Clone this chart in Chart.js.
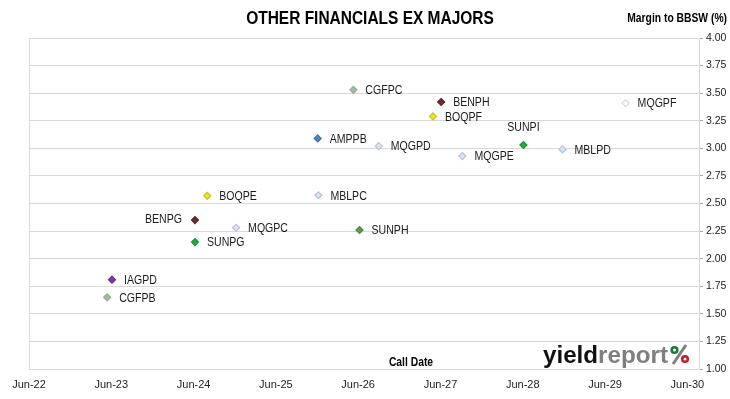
<!DOCTYPE html>
<html lang="en">
  <head>
    <meta charset="UTF-8" />
    <script src="https://cdn.jsdelivr.net/npm/chart.js@4.4.1/dist/chart.umd.min.js"></script>
    <title>Other Financials ex Majors</title>
    <style>
      body {
        margin: 0;
        padding: 0;
        background: #fff;
      }
      canvas {
        display: block;
      }
    </style>
  </head>
  <body>
    <canvas id="chart" width="730" height="399"></canvas>
    <script>
      // hybrids: ticker, first call date, margin to BBSW (%)
      const issuers = ['CGFPB', 'IAGPD', 'SUNPG', 'BENPG', 'MQGPC', 'BOQPE', 'MBLPC', 'AMPPB', 'CGFPC', 'SUNPH', 'MQGPD', 'BOQPF', 'BENPH', 'MQGPE', 'SUNPI', 'MBLPD', 'MQGPF']
      const callDates = ['2023-05-13', '2023-06-04', '2024-06-07', '2024-06-07', '2024-12-07', '2024-08-01', '2025-12-07', '2025-12-04', '2026-05-10', '2026-06-07', '2026-09-01', '2027-04-28', '2027-06-04', '2027-09-07', '2028-06-04', '2028-11-25', '2029-09-01']
      const margins = [1.65, 1.81, 2.15, 2.35, 2.28, 2.57, 2.575, 3.09, 3.53, 2.26, 3.02, 3.29, 3.42, 2.93, 3.03, 2.99, 3.41]
      const xTickLabels = ['Jun-22', 'Jun-23', 'Jun-24', 'Jun-25', 'Jun-26', 'Jun-27', 'Jun-28', 'Jun-29', 'Jun-30']

      const FONT = '"Liberation Sans", Arial, sans-serif'

      // months since 1 Jun 2022
      const toMonths = (s) => {
        const [y, m, d] = s.split('-').map(Number)
        return (y - 2022) * 12 + (m - 6) + (d - 1) / 30
      }
      const tickMonths = xTickLabels.map((_, i) => i * 12)

      const fills = {
        CGFP: '#a3bda6', IAGP: '#7b3aa6', SUNP: '#1fae3c', BENP: '#6b2b2b',
        MQGP: '#dce4f3', MBLP: '#dce4f3', BOQP: '#ece52c', AMPP: '#4f84c8',
      }
      const borders = {
        CGFP: '#93ad98', IAGP: '#6a2c95', SUNP: '#16952f', BENP: '#5a2020',
        MQGP: '#b1c3e3', MBLP: '#b1c3e3', BOQP: '#c9c21e', AMPP: '#3f70b0',
      }
      const fillFor = (n) => (n === 'SUNPH' ? '#5f9a50' : n === 'MQGPF' ? '#ffffff' : fills[n.slice(0, 4)])
      const borderFor = (n) => (n === 'SUNPH' ? '#4f8843' : n === 'MQGPF' ? '#d2d9ea' : borders[n.slice(0, 4)])

      // draw text squeezed horizontally (the original uses a narrow face)
      const narrowText = (ctx, text, x, y, sx, align) => {
        const w = ctx.measureText(text).width * sx
        const left = align === 'center' ? x - w / 2 : align === 'right' ? x - w : x
        ctx.save()
        ctx.textAlign = 'left'
        ctx.translate(left, y)
        ctx.scale(sx, 1)
        ctx.fillText(text, 0, 0)
        ctx.restore()
      }

      const labelPlugin = {
        id: 'decor',
        afterDraw(chart) {
          const { ctx, chartArea: a } = chart
          ctx.save()
          // plot box
          ctx.strokeStyle = '#d9d9d9'
          ctx.lineWidth = 1
          ctx.strokeRect(a.left + 0.5, a.top + 0.5, a.right - a.left, a.bottom - a.top)

          // titles
          ctx.fillStyle = '#000'
          ctx.textBaseline = 'middle'
          ctx.font = 'bold 18px ' + FONT
          narrowText(ctx, 'OTHER FINANCIALS EX MAJORS', 370, 19, 0.86, 'center')
          ctx.font = 'bold 12px ' + FONT
          narrowText(ctx, 'Margin to BBSW (%)', 727, 19, 0.86, 'right')
          narrowText(ctx, 'Call Date', 411, 363, 0.86, 'center')

          // point labels
          const meta = chart.getDatasetMeta(0)
          ctx.font = '12px ' + FONT
          ctx.fillStyle = '#1a1a1a'
          meta.data.forEach((pt, i) => {
            const name = issuers[i]
            if (name === 'BENPG') {
              narrowText(ctx, name, pt.x - 13, pt.y, 0.88, 'right')
            } else if (name === 'SUNPI') {
              narrowText(ctx, name, pt.x, pt.y - 17, 0.88, 'center')
            } else {
              narrowText(ctx, name, pt.x + 12, pt.y + 1, 0.88, 'left')
            }
          })

          // logo
          ctx.textBaseline = 'alphabetic'
          ctx.font = 'bold 23px ' + FONT
          const w1 = ctx.measureText('yield').width
          const w2 = ctx.measureText('report').width
          const sx = 125 / (w1 + w2)
          ctx.save()
          ctx.translate(543, 363)
          ctx.scale(sx, 1)
          ctx.fillStyle = '#111'
          ctx.fillText('yield', 0, 0)
          ctx.fillStyle = '#7f7f7f'
          ctx.fillText('report', w1, 0)
          ctx.restore()
          // percent mark: grey slash, green and red dots
          ctx.strokeStyle = '#7f7f7f'
          ctx.lineWidth = 3
          ctx.beginPath()
          ctx.moveTo(686, 345)
          ctx.lineTo(673, 364)
          ctx.stroke()
          ctx.lineWidth = 2.6
          ctx.strokeStyle = '#1a7a3a'
          ctx.beginPath()
          ctx.arc(674.5, 350, 2.8, 0, Math.PI * 2)
          ctx.stroke()
          ctx.strokeStyle = '#c0202a'
          ctx.beginPath()
          ctx.arc(685, 359, 2.8, 0, Math.PI * 2)
          ctx.stroke()
          ctx.restore()
        },
      }

      new Chart(document.getElementById('chart'), {
        type: 'scatter',
        data: {
          datasets: [
            {
              data: issuers.map((n, i) => ({ x: toMonths(callDates[i]), y: margins[i] })),
              pointStyle: 'rectRot',
              pointRadius: 3.5,
              pointHoverRadius: 3.5,
              borderWidth: 1.2,
              backgroundColor: issuers.map(fillFor),
              borderColor: issuers.map(borderFor),
            },
          ],
        },
        options: {
          responsive: false,
          animation: false,
          layout: { padding: { left: 29, top: 38, right: 0, bottom: 0 } },
          plugins: {
            legend: { display: false },
            tooltip: { enabled: false },
          },
          scales: {
            x: {
              type: 'linear',
              min: 0,
              max: 97.7,
              afterBuildTicks: (s) => {
                s.ticks = tickMonths.map((v) => ({ value: v }))
              },
              afterFit: (s) => {
                s.height = 30
              },
              ticks: {
                autoSkip: false,
                maxRotation: 0,
                padding: 9,
                color: '#222',
                font: { family: FONT, size: 11 },
                callback: (v) => xTickLabels[tickMonths.indexOf(v)],
              },
              grid: { display: false, drawTicks: false },
              border: { display: true, color: '#d9d9d9' },
            },
            y: {
              position: 'right',
              min: 1,
              max: 4,
              afterFit: (s) => {
                s.width = 31
              },
              ticks: {
                stepSize: 0.25,
                padding: 3,
                color: '#222',
                font: { family: FONT, size: 10.5 },
                callback: (v) => v.toFixed(2),
              },
              grid: { color: '#d9d9d9', tickColor: '#a6a6a6', tickLength: 4 },
              border: { display: true, color: '#bfbfbf' },
            },
          },
        },
        plugins: [labelPlugin],
      })
    </script>
  </body>
</html>
